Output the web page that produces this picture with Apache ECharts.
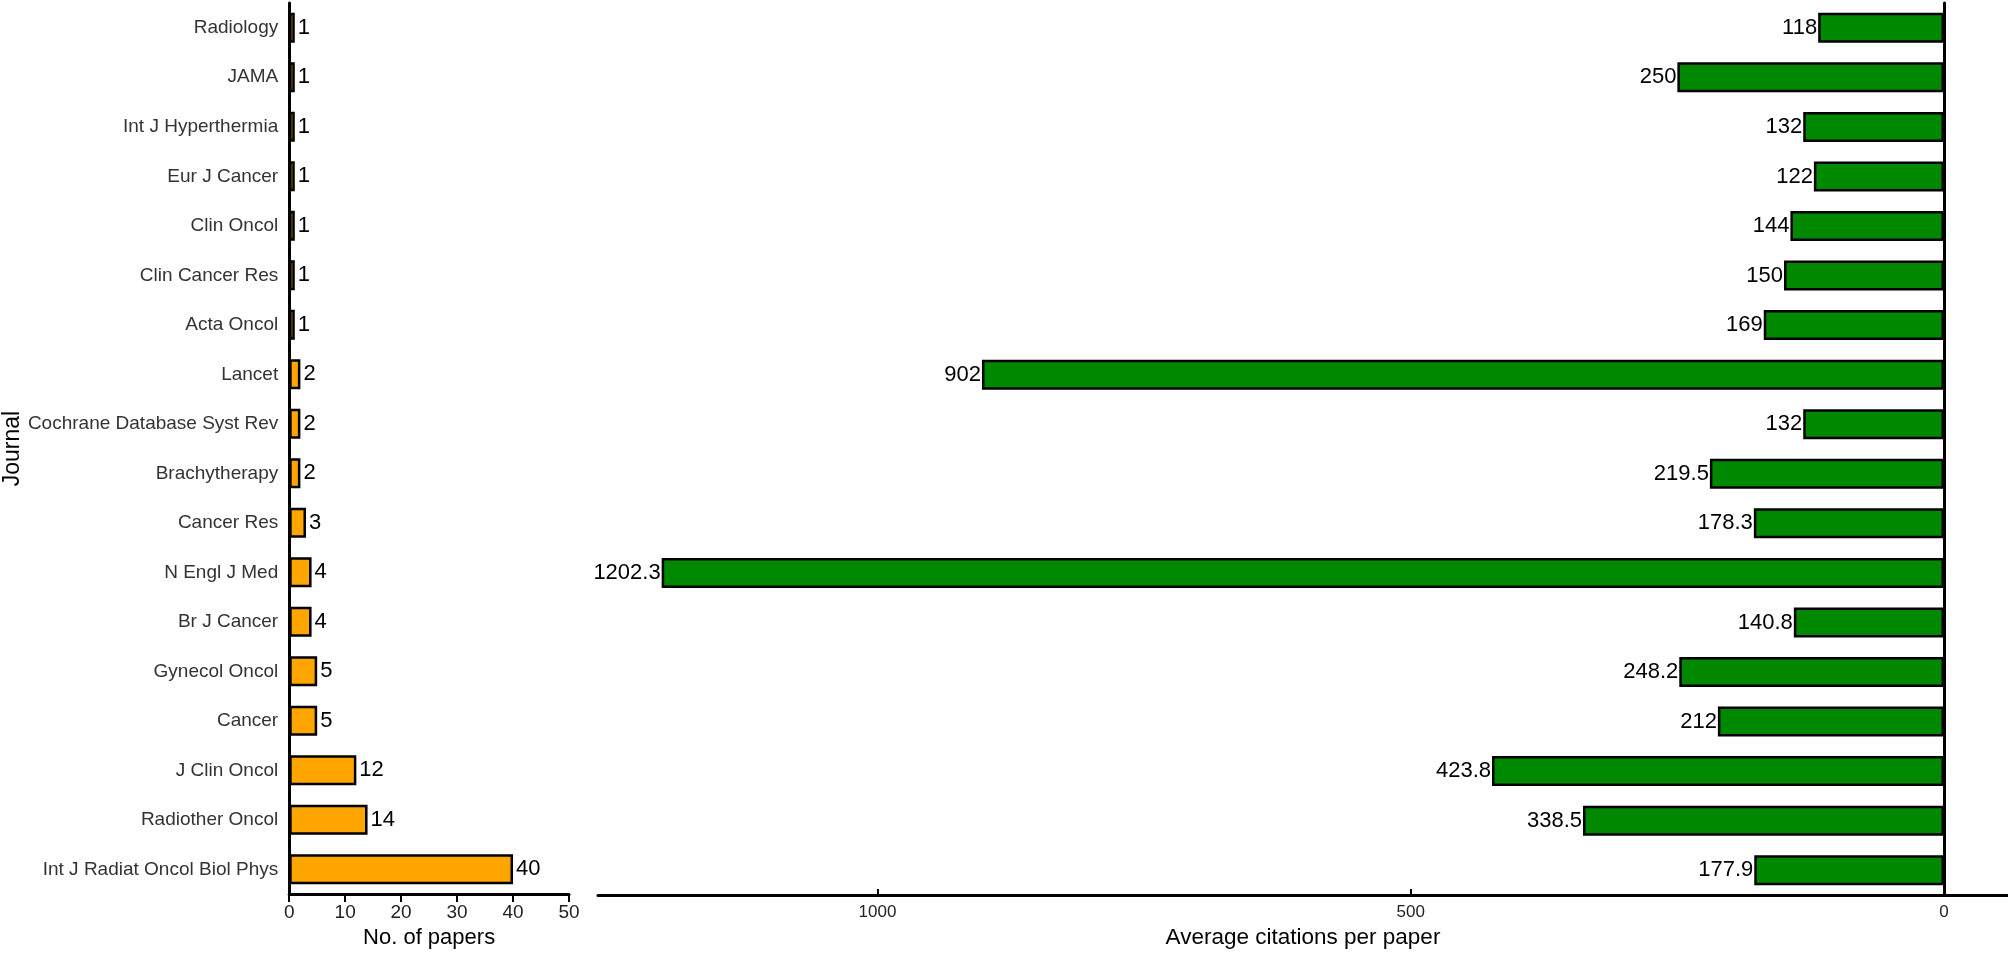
<!DOCTYPE html>
<html>
<head>
<meta charset="utf-8">
<script src="https://cdn.jsdelivr.net/npm/echarts@6/dist/echarts.min.js"></script>
<style>
html,body{margin:0;padding:0;background:#fff;}
#chart{width:2008px;height:954px;}
</style>
</head>
<body>
<div id="chart"></div>
<script>
const journals = ["Radiology","JAMA","Int J Hyperthermia","Eur J Cancer","Clin Oncol","Clin Cancer Res","Acta Oncol","Lancet","Cochrane Database Syst Rev","Brachytherapy","Cancer Res","N Engl J Med","Br J Cancer","Gynecol Oncol","Cancer","J Clin Oncol","Radiother Oncol","Int J Radiat Oncol Biol Phys"];
const papers = [1,1,1,1,1,1,1,2,2,2,3,4,4,5,5,12,14,40];
const citations = [118,250,132,122,144,150,169,902,132,219.5,178.3,1202.3,140.8,248.2,212,423.8,338.5,177.9];
const papersTicks = [0,10,20,30,40,50];
const citationTicks = [0,500,1000];

const FONT = "'Liberation Sans', Arial, sans-serif";
const chart = echarts.init(document.getElementById('chart'));
const axisLineStyle = {color:'#000', width:3};
chart.setOption({
  animation:false,
  textStyle:{fontFamily:FONT},
  grid:[
    {left:288, top:3, width:281, height:894},
    {left:598, top:3, right:0, height:894}
  ],
  xAxis:[
    {gridIndex:0, type:'value', min:0, max:50, interval:10,
     splitLine:{show:false},
     axisLine:{show:true, lineStyle:axisLineStyle},
     axisTick:{show:true, length:8, customValues:papersTicks, lineStyle:{color:'#000', width:2}},
     axisLabel:{color:'#222', fontSize:19, margin:9, customValues:papersTicks, formatter:v=>String(v), fontFamily:FONT},
     name:'No. of papers', nameLocation:'middle', nameGap:31,
     nameTextStyle:{color:'#000', fontSize:22, fontFamily:FONT}},
    {gridIndex:1, type:'value', min:-60, max:1262, inverse:true,
     splitLine:{show:false},
     axisLine:{show:true, onZero:false, lineStyle:axisLineStyle},
     axisTick:{show:true, inside:true, length:6, customValues:citationTicks, lineStyle:{color:'#000', width:2}},
     axisLabel:{color:'#222', fontSize:17, margin:9, customValues:citationTicks, formatter:v=>String(v), fontFamily:FONT},
     name:'Average citations per paper', nameLocation:'middle', nameGap:31,
     nameTextStyle:{color:'#000', fontSize:22.5, fontFamily:FONT}}
  ],
  yAxis:[
    {gridIndex:0, type:'category', data:journals, inverse:true,
     axisLine:{show:true, onZero:false, lineStyle:axisLineStyle},
     axisTick:{show:false},
     axisLabel:{color:'#333', fontSize:19, margin:11, fontFamily:FONT},
     name:'Journal', nameLocation:'middle', nameGap:265,
     nameTextStyle:{color:'#000', fontSize:23, fontFamily:FONT}},
    {gridIndex:1, type:'category', data:journals, inverse:true,
     axisLine:{show:true, onZero:true, lineStyle:axisLineStyle},
     axisTick:{show:false},
     axisLabel:{show:false}}
  ],
  series:[
    {type:'bar', xAxisIndex:0, yAxisIndex:0, data:papers, barWidth:30,
     itemStyle:{color:'#FFA500', borderColor:'#000', borderWidth:2.5},
     label:{show:true, position:'right', distance:3, color:'#000', fontSize:22, fontFamily:FONT}},
    {type:'bar', xAxisIndex:1, yAxisIndex:1, data:citations, barWidth:30,
     itemStyle:{color:'#008800', borderColor:'#000', borderWidth:2.5},
     label:{show:true, position:'left', distance:1, color:'#000', fontSize:22, fontFamily:FONT}}
  ]
});
</script>
</body>
</html>
